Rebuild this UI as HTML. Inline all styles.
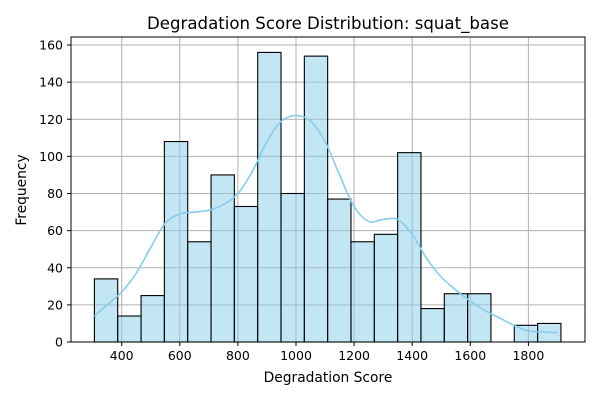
<!DOCTYPE html>
<html><head><meta charset="utf-8"><style>
body{margin:0;background:#fff;font-family:"Liberation Sans","DejaVu Sans",sans-serif}
svg text{font-family:"DejaVu Sans","Liberation Sans",sans-serif}
</style></head><body>
<svg id="chart" width="600" height="400" xmlns="http://www.w3.org/2000/svg">
<rect width="600" height="400" fill="#fff"/>
<g id="grid"></g>
<g id="bars"></g>
<path id="kde" fill="none" stroke="#87ceeb" stroke-width="1.6"/>
<rect x="71" y="37" width="514" height="305" fill="none" stroke="#000" stroke-width="1"/>
<g id="ticks"></g>
<text x="328" y="29" font-size="16.6" text-anchor="middle">Degradation Score Distribution: squat_base</text>
<text x="328" y="382" font-size="13.8" text-anchor="middle">Degradation Score</text>
<text x="26" y="190" font-size="13.8" text-anchor="middle" transform="rotate(-90 26 190)">Frequency</text>
</svg>
<script>
const binStart = 306;
const binEnd = 1912;
const counts = [34,14,25,108,54,90,73,156,80,154,77,54,58,102,18,26,26,0,9,10];
const xTicks = [400,600,800,1000,1200,1400,1600,1800];
const yTicks = [0,20,40,60,80,100,120,140,160];
const kdeX = [306,350,400,450,500,550,600,650,700,750,800,850,900,950,1000,1050,1100,1150,1200,1250,1300,1350,1400,1450,1500,1550,1600,1650,1700,1750,1800,1850,1900];
const kdeY = [14,20,27,37,51,64,69,70,71,74,80,92,108,119,122,119,108,90,73,65,66,66,58,45,35,28,22,17,13,9,6,5.5,5];
const sx = v => 296 + (v - 1000) * 0.2905;
const sy = v => 342 - v * 1.85625;
const NS = "http://www.w3.org/2000/svg";
const grid = document.getElementById('grid'), ticks = document.getElementById('ticks'), bars = document.getElementById('bars');
function mk(tag, attrs, parent){const e=document.createElementNS(NS,tag);for(const k in attrs)e.setAttribute(k,attrs[k]);parent.appendChild(e);return e;}
xTicks.forEach(t=>{
  const x=sx(t);
  const g=mk('line',{x1:x,x2:x,y1:37,y2:342,stroke:'#b0b0b0','stroke-width':1},grid);
  
  
  const tk=mk('line',{x1:x,x2:x,y1:342,y2:346,stroke:'#000'},ticks);
  
  
  const tx=mk('text',{x:x,y:360,'font-size':12.5,'text-anchor':'middle'},ticks);
  tx.textContent=t;
  
  
});
yTicks.forEach(t=>{
  const y=sy(t);
  const g=mk('line',{x1:71,x2:585,y1:y,y2:y,stroke:'#b0b0b0','stroke-width':1},grid);
  
  
  const tk=mk('line',{x1:67,x2:71,y1:y,y2:y,stroke:'#000'},ticks);
  
  
  const tx=mk('text',{x:63,y:y+4.5,'font-size':12.5,'text-anchor':'end'},ticks);
  tx.textContent=t;
  
  
});
const w=(binEnd-binStart)/counts.length;
counts.forEach((c,i)=>{
  if(c<=0) return;
  const x0=sx(binStart+i*w), x1=sx(binStart+(i+1)*w);
  const r=mk('rect',{x:x0,y:sy(c),width:x1-x0,height:sy(0)-sy(c),fill:'rgba(135,206,235,0.5)',stroke:'#000','stroke-width':1.1},bars);
  
  
});
const P=kdeX.map((v,i)=>[sx(v),sy(kdeY[i])]);
let d='M'+P[0][0].toFixed(1)+','+P[0][1].toFixed(1);
for(let i=0;i<P.length-1;i++){
  const p0=P[Math.max(0,i-1)],p1=P[i],p2=P[i+1],p3=P[Math.min(P.length-1,i+2)];
  const c1=[p1[0]+(p2[0]-p0[0])/6,p1[1]+(p2[1]-p0[1])/6];
  const c2=[p2[0]-(p3[0]-p1[0])/6,p2[1]-(p3[1]-p1[1])/6];
  d+='C'+c1.map(n=>n.toFixed(1)).join(',')+' '+c2.map(n=>n.toFixed(1)).join(',')+' '+p2.map(n=>n.toFixed(1)).join(',');
}
document.getElementById('kde').setAttribute('d',d);
</script>
</body></html>
